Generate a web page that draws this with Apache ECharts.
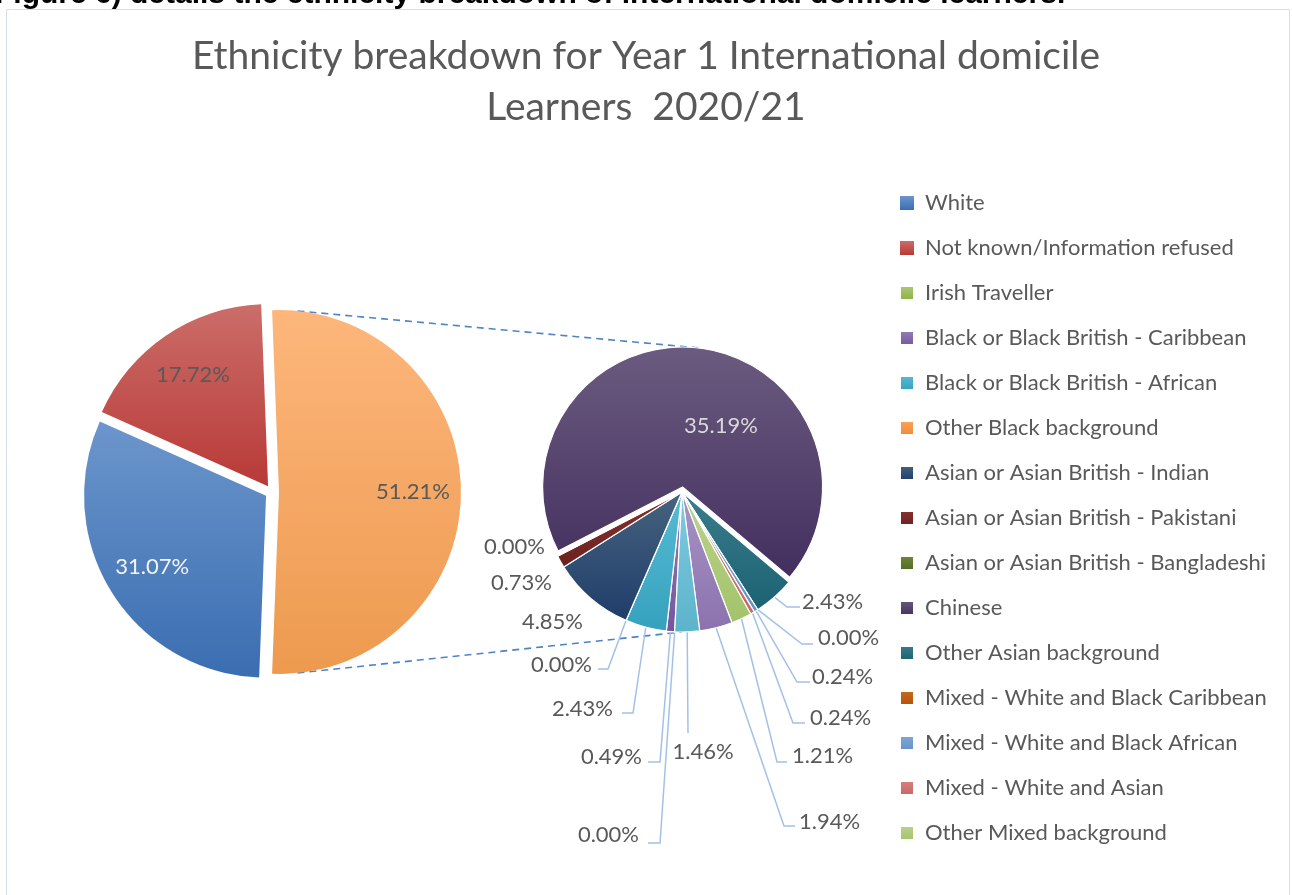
<!DOCTYPE html>
<html>
<head>
<meta charset="utf-8">
<title>Ethnicity breakdown for Year 1 International domicile Learners 2020/21</title>
<script src="https://cdn.jsdelivr.net/npm/echarts@6/dist/echarts.min.js"></script>
<style>
  html, body { margin: 0; padding: 0; background: #ffffff; }
  #chart { width: 1292px; height: 895px; }
</style>
</head>
<body>
<div id="chart"></div>
<script>
// ---- data ----------------------------------------------------------------
// Main pie: the two largest groups; the remaining groups are summed into one slice
const mainCategories = ['White', 'Not known/Information refused'];
const mainValues = [31.07, 17.72];
const otherName = 'Other';

// Breakdown pie: groups gathered into the "Other" slice (clockwise order)
const detailCategories = [
  'Irish Traveller',
  'Black or Black British - Caribbean',
  'Black or Black British - African',
  'Other Black background',
  'Asian or Asian British - Indian',
  'Asian or Asian British - Pakistani',
  'Asian or Asian British - Bangladeshi',
  'Chinese',
  'Other Asian background',
  'Mixed - White and Black Caribbean',
  'Mixed - White and Black African',
  'Mixed - White and Asian',
  'Other Mixed background',
  'Arab',
  'Other ethnic background'
];
const detailValues = [0.00, 0.49, 2.43, 0.00, 4.85, 0.73, 0.00, 35.19, 2.43, 0.00, 0.24, 0.24, 1.21, 1.94, 1.46];

// Legend entries
const legendItems = [
  'White',
  'Not known/Information refused',
  'Irish Traveller',
  'Black or Black British - Caribbean',
  'Black or Black British - African',
  'Other Black background',
  'Asian or Asian British - Indian',
  'Asian or Asian British - Pakistani',
  'Asian or Asian British - Bangladeshi',
  'Chinese',
  'Other Asian background',
  'Mixed - White and Black Caribbean',
  'Mixed - White and Black African',
  'Mixed - White and Asian',
  'Other Mixed background'
];

// ---- styles --------------------------------------------------------------
// top / bottom colours of each slice's vertical gradient
const palette = {
  'White': ['#6C96CC', '#3A6DB1'],
  'Not known/Information refused': ['#CB6D69', '#B83A37'],
  'Other': ['#FDB67B', '#ED9A4F'],
  'Irish Traveller': ['#AFCB76', '#8CAF45'],
  'Black or Black British - Caribbean': ['#9580B6', '#73569B'],
  'Black or Black British - African': ['#58BCD4', '#35A1BD'],
  'Other Black background': ['#FBA35D', '#F08A32'],
  'Asian or Asian British - Indian': ['#47637F', '#1F3D6A'],
  'Asian or Asian British - Pakistani': ['#88322F', '#6B2220'],
  'Asian or Asian British - Bangladeshi': ['#6E8A38', '#536A24'],
  'Chinese': ['#6B5B7F', '#432F5F'],
  'Other Asian background': ['#3B7D8D', '#1B6273'],
  'Mixed - White and Black Caribbean': ['#C96A22', '#B35206'],
  'Mixed - White and Black African': ['#82A8D6', '#6690C6'],
  'Mixed - White and Asian': ['#D8827F', '#C86663'],
  'Other Mixed background': ['#BBD38C', '#A3C36A'],
  'Arab': ['#A895C5', '#8B72AE'],
  'Other ethnic background': ['#80CCE0', '#5CB3CB']
};

const FONT = 'Lato, "Noto Sans", sans-serif';
const TEXT_GREY = '#595959';
const LABEL_SIZE = 22;
const MAIN = { cx: 272, cy: 492, r: 182, explode: 7 };
const SEC = { cx: 682, cy: 492, r: 140, explode: 5 };

// label anchor / leader line placement for the breakdown pie, relative to its centre
const detailLabelPlacement = {
  'Irish Traveller':                      { text: [-43, 343], align: 'right', elbow: [-22, 351], end: [-34, 351] },
  'Black or Black British - Caribbean':   { text: [-40, 265], align: 'right', elbow: [-22, 270], end: [-34, 270] },
  'Black or Black British - African':     { text: [-69, 217], align: 'right', elbow: [-49, 221], end: [-60, 221] },
  'Other Black background':               { text: [-90, 173], align: 'right', elbow: [-74, 177], end: [-84, 177] },
  'Asian or Asian British - Indian':      { text: [-99, 130], align: 'right' },
  'Asian or Asian British - Pakistani':   { text: [-130, 91], align: 'right' },
  'Asian or Asian British - Bangladeshi': { text: [-137, 55], align: 'right' },
  'Chinese':                              { text: [39, -66], align: 'center' },
  'Other Asian background':               { text: [120, 110], align: 'left', elbow: [105, 115], end: [118, 115] },
  'Mixed - White and Black Caribbean':    { text: [136, 146], align: 'left', elbow: [120, 152], end: [131, 152] },
  'Mixed - White and Black African':      { text: [130, 185], align: 'left', elbow: [115, 190], end: [128, 190] },
  'Mixed - White and Asian':              { text: [128, 226], align: 'left', elbow: [111, 231], end: [123, 231] },
  'Other Mixed background':               { text: [110, 264], align: 'left', elbow: [95, 270], end: [105, 270] },
  'Arab':                                 { text: [117, 330], align: 'left', elbow: [102, 334], end: [113, 334] },
  'Other ethnic background':              { text: [21, 260], align: 'center', elbow: [6, 241], end: [6, 241] }
};

function grad(name) {
  const c = palette[name];
  return new echarts.graphic.LinearGradient(0, 0, 0, 1, [
    { offset: 0, color: c[0] },
    { offset: 1, color: c[1] }
  ]);
}
const pct = p => Number(p.value).toFixed(2) + '%';

// ---- assemble ------------------------------------------------------------
const otherValue = detailValues.reduce((a, b) => a + b, 0);
const mainNames = [otherName].concat(mainCategories);
const mainVals = [otherValue].concat(mainValues);
const mainLabelColors = { 'Other': TEXT_GREY, 'White': '#F4F4F4', 'Not known/Information refused': TEXT_GREY };

const mainData = mainNames.map((n, i) => ({
  name: n, value: mainVals[i], selected: true,
  itemStyle: { color: grad(n) }
}));
const mainLabelData = mainNames.map((n, i) => ({
  name: n, value: mainVals[i], selected: true,
  label: { color: mainLabelColors[n] }
}));
const detailData = detailCategories.map((n, i) => {
  const item = { name: n, value: detailValues[i], itemStyle: { color: grad(n) } };
  if (!detailLabelPlacement[n].elbow) item.labelLine = { show: false };
  if (n === 'Chinese') {
    item.selected = true;
    item.label = { show: false };
  }
  return item;
});
// label of the large slice, drawn on a transparent copy of the breakdown pie
const detailInnerLabelData = detailCategories.map((n, i) => ({
  name: n, value: detailValues[i],
  label: { show: n === 'Chinese' }
}));

// "pie of pie": the combined slice is centred on the right, facing the breakdown pie
const mainStart = (otherValue / 100) * 180;

const chart = echarts.init(document.getElementById('chart'), null, { renderer: 'canvas' });

const option = {
  animation: false,
  backgroundColor: '#ffffff',
  title: {
    text: 'Ethnicity breakdown for Year 1 International domicile\nLearners  2020/21',
    left: 'center',
    top: 31,
    padding: 0,
    textStyle: { fontFamily: FONT, fontSize: 39, fontWeight: 'normal', color: TEXT_GREY, lineHeight: 51 }
  },
  legend: {
    data: legendItems,
    orient: 'vertical',
    left: 899,
    top: 192,
    padding: 0,
    itemWidth: 14,
    itemHeight: 14,
    itemGap: 23,
    icon: 'rect',
    selectedMode: false,
    textStyle: { fontFamily: FONT, fontSize: 22, lineHeight: 22, color: TEXT_GREY, padding: [0, 0, 0, 6] }
  },
  series: [
    {
      // main pie
      type: 'pie',
      center: [MAIN.cx, MAIN.cy],
      radius: [0, MAIN.r],
      startAngle: mainStart,
      selectedMode: 'multiple',
      selectedOffset: MAIN.explode,
      silent: true,
      label: { show: false },
      labelLine: { show: false },
      emphasis: { disabled: true },
      data: mainData
    },
    {
      // breakdown pie
      type: 'pie',
      center: [SEC.cx, SEC.cy],
      radius: [0, SEC.r],
      startAngle: 267,
      selectedMode: 'multiple',
      selectedOffset: SEC.explode,
      avoidLabelOverlap: false,
      silent: true,
      itemStyle: { borderColor: '#ffffff', borderWidth: 1.2 },
      emphasis: { disabled: true },
      label: {
        show: true, position: 'outside', formatter: pct,
        fontFamily: FONT, fontSize: LABEL_SIZE, color: TEXT_GREY
      },
      labelLine: { show: true, lineStyle: { color: '#A3C1E6', width: 1.5 } },
      labelLayout: function (p) {
        const pl = detailLabelPlacement[detailCategories[p.dataIndex]];
        if (!pl) return {};
        const out = {
          x: SEC.cx + pl.text[0],
          y: SEC.cy + pl.text[1],
          align: pl.align,
          verticalAlign: 'middle'
        };
        if (pl.elbow && p.labelLinePoints) {
          out.labelLinePoints = [
            p.labelLinePoints[0],
            [SEC.cx + pl.elbow[0], SEC.cy + pl.elbow[1]],
            [SEC.cx + pl.end[0], SEC.cy + pl.end[1]]
          ];
        }
        return out;
      },
      data: detailData
    },
    {
      // value labels of the main pie, placed towards the outer edge
      type: 'pie',
      center: [MAIN.cx, MAIN.cy],
      radius: [MAIN.r * 0.44, MAIN.r],
      startAngle: mainStart,
      selectedMode: 'multiple',
      selectedOffset: MAIN.explode,
      silent: true,
      legendHoverLink: false,
      itemStyle: { color: 'rgba(0,0,0,0)' },
      emphasis: { disabled: true },
      label: { show: true, position: 'inside', formatter: pct, fontFamily: FONT, fontSize: LABEL_SIZE },
      labelLine: { show: false },
      data: mainLabelData
    },
    {
      // value label inside the largest breakdown slice
      type: 'pie',
      center: [SEC.cx, SEC.cy],
      radius: [0, SEC.r],
      startAngle: 267,
      silent: true,
      legendHoverLink: false,
      avoidLabelOverlap: false,
      itemStyle: { color: 'rgba(0,0,0,0)' },
      emphasis: { disabled: true },
      label: { position: 'inside', formatter: pct, fontFamily: FONT, fontSize: LABEL_SIZE, color: '#D9D9D9' },
      labelLine: { show: false },
      labelLayout: function (p) {
        const pl = detailLabelPlacement[detailCategories[p.dataIndex]];
        return { x: SEC.cx + pl.text[0], y: SEC.cy + pl.text[1], align: pl.align, verticalAlign: 'middle' };
      },
      data: detailInnerLabelData
    }
  ]
};

chart.setOption(option);

// ---- connector lines between the combined slice and the breakdown pie --------
(function drawConnectors() {
  const model = chart.getModel();
  const mLay = model.getSeriesByIndex(0).getData().getItemLayout(0);
  const sData = model.getSeriesByIndex(1).getData();
  const cIdx = detailCategories.indexOf('Chinese');
  const sLay = sData.getItemLayout(cIdx);

  const mMid = (mLay.startAngle + mLay.endAngle) / 2;
  const mx = mLay.cx + Math.cos(mMid) * MAIN.explode;
  const my = mLay.cy + Math.sin(mMid) * MAIN.explode;
  const inset = 8 * Math.PI / 180;
  const a1 = mLay.startAngle + inset, a2 = mLay.endAngle - inset;
  const p1 = [mx + mLay.r * Math.cos(a1), my + mLay.r * Math.sin(a1)];
  const p2 = [mx + mLay.r * Math.cos(a2), my + mLay.r * Math.sin(a2)];

  const sMid = (sLay.startAngle + sLay.endAngle) / 2;
  const q1 = [sLay.cx + (sLay.r + SEC.explode) * Math.cos(sMid), sLay.cy + (sLay.r + SEC.explode) * Math.sin(sMid)];
  const q2 = [sLay.cx, sLay.cy + sLay.r];

  const dash = { stroke: '#4F83C4', lineWidth: 1.6, lineDash: [7, 5] };
  chart.setOption({
    graphic: [
      {
        type: 'rect', z: -10, silent: true,
        shape: { x: 6.5, y: 9.5, width: 1283, height: 900 },
        style: { fill: 'none', stroke: '#D5DFEA', lineWidth: 1 }
      },
      {
        type: 'text', z: 10, silent: true, x: -5, y: -5,
        style: {
          text: 'Figure 6) details the ethnicity breakdown of international domicile learners.',
          font: 'bold 30px "Liberation Sans", Arial, sans-serif',
          fill: '#000000', verticalAlign: 'middle', align: 'left'
        }
      },
      { type: 'line', z: -5, silent: true, shape: { x1: p1[0], y1: p1[1], x2: q1[0], y2: q1[1] }, style: dash },
      { type: 'line', z: -5, silent: true, shape: { x1: p2[0], y1: p2[1], x2: q2[0], y2: q2[1] }, style: dash }
    ]
  });
})();
</script>
</body>
</html>
